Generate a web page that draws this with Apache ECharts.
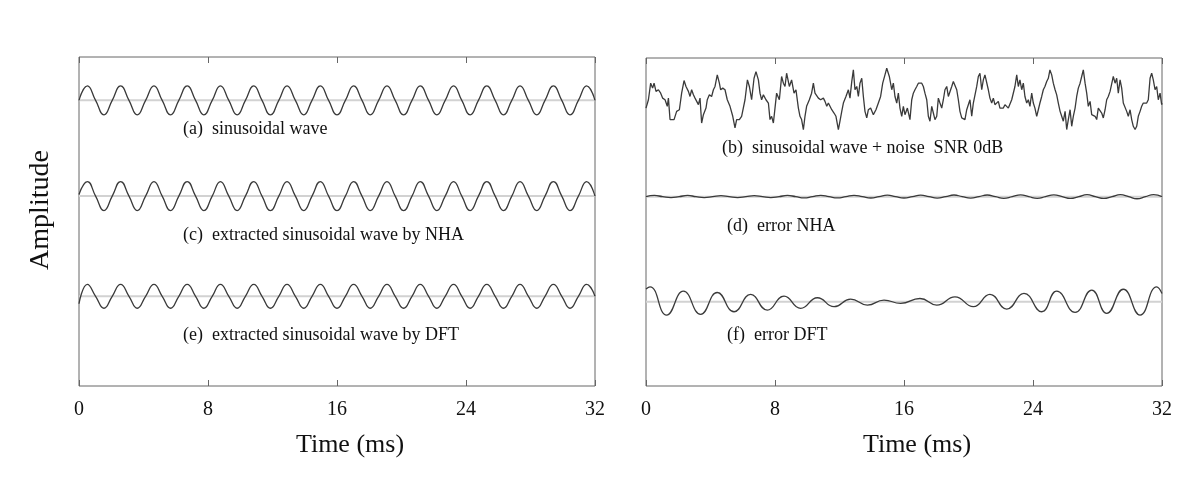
<!DOCTYPE html>
<html>
<head>
<meta charset="utf-8">
<script src="https://cdn.jsdelivr.net/npm/echarts@6/dist/echarts.min.js"></script>
<style>html,body{margin:0;padding:0;background:#fff}#c{width:1200px;height:495px}</style>
</head>
<body>
<div id="c"></div>
<script>
// ---------------- data ----------------
const timeTicks = [0, 8, 16, 24, 32];
// sample instants of the clean sinusoid (zero crossings and extrema, ms)
const sineTime = [0,0.52,1.03,1.55,2.06,2.58,3.10,3.61,4.13,4.65,5.16,5.68,6.19,6.71,7.23,7.74,8.26,8.77,9.29,9.81,10.32,10.84,11.35,11.87,12.39,12.90,13.42,13.94,14.45,14.97,15.48,16.00,16.52,17.03,17.55,18.06,18.58,19.10,19.61,20.13,20.65,21.16,21.68,22.19,22.71,23.23,23.74,24.26,24.77,25.29,25.81,26.32,26.84,27.35,27.87,28.39,28.90,29.42,29.94,30.45,30.97,31.48,32.00];
const waveA = [0,0.97,0,-0.97,0,0.97,0,-0.97,0,0.97,0,-0.97,0,0.97,0,-0.97,0,0.97,0,-0.97,0,0.97,0,-0.97,0,0.97,0,-0.97,0,0.97,0,-0.97,0,0.97,0,-0.97,0,0.97,0,-0.97,0,0.97,0,-0.97,0,0.97,0,-0.97,0,0.97,0,-0.97,0,0.97,0,-0.97,0,0.97,0,-0.97,0,0.97,0];
const waveC = [0.1,0.97,0,-0.97,0,0.97,0,-0.97,0,0.97,0,-0.97,0,0.97,0,-0.97,0,0.97,0,-0.97,0,0.97,0,-0.97,0,0.97,0,-0.97,0,0.97,0,-0.97,0,0.97,0,-0.97,0,0.97,0,-0.97,0,0.97,0,-0.97,0,0.97,0,-0.97,0,0.97,0,-0.97,0,0.97,0,-0.97,0,0.97,0,-0.97,0,0.97,0];
const waveE = [-0.5,0.8,0,-0.8,0,0.8,0,-0.8,0,0.8,0,-0.8,0,0.8,0,-0.8,0,0.8,0,-0.8,0,0.8,0,-0.8,0,0.8,0,-0.8,0,0.8,0,-0.8,0,0.8,0,-0.8,0,0.8,0,-0.8,0,0.8,0,-0.8,0,0.8,0,-0.8,0,0.8,0,-0.8,0,0.8,0,-0.8,0,0.8,0,-0.8,0,0.8,0];
const errNHA = [0,0.08,0,-0.07,0,0.08,0,-0.06,0,0.07,0,-0.06,0,0.07,0,-0.07,0,0.08,0,-0.08,0,0.09,0,-0.08,0,0.09,0,-0.09,0,0.10,0,-0.09,0,0.10,0,-0.10,0,0.11,0,-0.10,0,0.11,0,-0.11,0,0.12,0,-0.11,0,0.12,0,-0.12,0,0.13,0,-0.12,0,0.13,0,-0.14,0,0.14,0];
// noisy signal (b)
const noisyTime = [0.00,0.15,0.29,0.41,0.50,0.62,0.77,0.91,1.03,1.18,1.32,1.39,1.49,1.59,1.74,1.90,2.07,2.21,2.36,2.48,2.63,2.73,2.83,2.94,3.04,3.14,3.25,3.35,3.45,3.56,3.72,3.80,3.93,4.07,4.18,4.28,4.42,4.55,4.63,4.76,4.90,5.04,5.21,5.38,5.52,5.62,5.79,5.93,6.14,6.29,6.41,6.55,6.70,6.82,6.97,7.07,7.17,7.28,7.44,7.59,7.69,7.79,7.90,8.00,8.10,8.27,8.41,8.52,8.62,8.72,8.89,9.03,9.18,9.30,9.45,9.55,9.65,9.76,9.86,9.96,10.13,10.27,10.38,10.48,10.58,10.69,10.83,11.00,11.10,11.21,11.31,11.41,11.52,11.66,11.78,11.93,12.03,12.14,12.24,12.40,12.55,12.65,12.76,12.86,12.96,13.07,13.17,13.27,13.38,13.48,13.58,13.69,13.79,13.93,14.10,14.26,14.41,14.55,14.68,14.82,14.93,15.09,15.24,15.34,15.44,15.55,15.65,15.75,15.86,15.96,16.06,16.21,16.37,
16.48,16.58,16.68,16.79,16.89,16.99,17.10,17.20,17.30,17.41,17.51,17.61,17.72,17.82,17.92,18.03,18.13,18.23,18.34,18.44,18.54,18.65,18.75,18.85,18.96,19.06,19.16,19.27,19.37,19.47,19.58,19.68,19.78,19.89,19.99,20.09,20.20,20.30,20.40,20.51,20.61,20.71,20.82,20.92,21.02,21.13,21.23,21.33,21.44,21.54,21.64,21.75,21.85,21.95,22.06,22.16,22.26,22.37,22.47,22.57,22.68,22.78,22.88,22.99,23.09,23.19,23.30,23.40,23.50,23.61,23.71,23.81,23.92,24.02,24.12,24.23,24.33,24.43,24.54,24.64,24.74,24.85,24.95,25.05,25.16,25.26,25.37,25.47,25.57,25.68,25.78,25.88,25.99,26.09,26.19,26.30,26.40,26.50,26.61,26.71,26.81,26.92,27.02,27.12,27.23,27.33,27.43,27.54,27.64,27.74,27.85,27.95,28.05,28.16,28.26,28.36,28.47,28.57,28.67,28.78,28.88,28.98,29.09,29.19,29.29,29.40,29.50,29.60,29.71,29.81,29.91,30.02,30.12,30.22,30.33,30.43,30.53,30.64,30.74,30.84,30.95,31.05,31.15,31.26,31.36,31.46,31.57,31.67,31.77,31.88,31.98,32.00];
const noisyAmp = [-0.56,0,1.11,0.78,1.11,0.56,0.67,0.44,0.11,0,-0.44,0.11,-1.33,-1.22,-1.33,-0.78,-0.67,0.44,1.29,0.89,0.56,0.22,0.67,0.33,0.11,0,-0.33,0.11,-1.56,-1.00,-0.56,0,0.33,0.22,0.67,0.89,1.67,1.11,0.67,0.78,0.67,0,-0.44,-1.11,-1.89,-1.33,-1.33,-1.11,0,1.33,0.89,0,1.44,1.89,1.33,0.44,0,0.33,0,-0.22,-1.33,-1.11,-1.56,-0.56,0.44,0,1.56,1.11,0.89,1.78,0.89,1.33,0.44,0.67,-0.56,-1.11,-1.33,-2.00,-1.11,-0.44,0,0.44,1.11,0.44,0.44,0.11,0,0.11,-0.11,-0.44,-0.22,-0.33,-0.67,-0.89,-1.11,-2.00,-1.44,-0.78,-0.22,0.22,0.67,0.11,1.22,2.00,0.67,0.89,0.22,1.11,1.44,0.22,-0.78,-1.22,-0.67,-0.56,-1.00,-0.67,-0.22,0.22,1.11,1.67,2.11,1.56,0.67,1.11,0.22,-0.22,0.44,-0.56,-1.11,-0.44,-1.00,-0.56,-1.33,
0,0.44,0.67,0.89,1.11,1.00,1.11,0.89,0.44,0,-1.11,-1.44,-0.44,-0.89,-1.33,-1.11,0.11,-0.22,-0.56,0,0.67,0.89,0.22,0.22,0.89,1.22,1.33,0.67,0,-0.78,-1.22,-1.11,-1.33,-0.67,-0.56,0,-1.11,-0.22,-0.11,0.89,1.56,1.78,0.67,1.33,1.67,1.56,0.67,0.11,-0.22,0.11,-0.33,-0.44,-0.11,-0.56,-0.44,-0.56,-0.33,-0.44,-0.56,-0.67,0,-0.11,0.89,1.67,0.89,1.33,0.67,1.11,0.22,-0.22,0,-0.44,0.44,-0.22,-0.56,-1.11,-0.67,-0.22,0.22,0.67,0.89,1.22,1.44,2.00,1.67,1.11,0.67,0.33,-0.22,-0.78,-1.11,-1.44,-0.78,-2.00,-1.33,-0.67,-1.78,-1.11,-0.56,0.22,0.78,1.11,1.56,2.00,1.11,0.44,-0.44,-0.11,-1.00,-0.89,-1.11,-1.33,-0.56,-0.56,-0.89,-1.22,-0.67,0,0.22,0.56,0.44,1.56,1.11,1.44,0.44,1.33,0.78,-0.22,-0.11,-0.78,-1.11,-0.67,-1.33,-1.78,-2.00,-1.78,-1.11,-0.78,-0.44,-0.22,-0.11,-0.22,0,1.44,1.78,1.33,0.67,0.89,0,0.44,-0.33,-0.22];
// DFT error (f): extrema
const dftTime = [0,0.25,1.28,2.32,3.39,4.42,5.46,6.49,7.52,8.56,9.59,10.63,11.66,12.69,13.73,14.76,15.79,16.99,18.03,19.16,20.30,21.33,22.37,23.44,24.54,25.47,26.61,27.64,28.57,29.60,30.64,31.67,32.00];
const dftAmp = [0.85,1.00,-0.89,0.71,-0.84,0.62,-0.67,0.49,-0.56,0.38,-0.44,0.27,-0.33,0.18,-0.22,0.11,-0.11,0.22,-0.22,0.33,-0.33,0.49,-0.49,0.56,-0.67,0.71,-0.71,0.78,-0.78,0.84,-0.89,1.00,0.56];
// vertical offsets of the stacked traces (amplitude units)
const leftOffsets = [-2.9, -9.3, -16.0];   // (a) (c) (e)
const rightOffsets = [-2.8, -9.3, -16.35]; // (b) (d) (f)
const yRange = [-22, 0];
const leftLabels = ['(a)  sinusoidal wave', '(c)  extracted sinusoidal wave by NHA', '(e)  extracted sinusoidal wave by DFT'];
const rightLabels = ['(b)  sinusoidal wave + noise  SNR 0dB', '(d)  error NHA', '(f)  error DFT'];

// ---------------- chart ----------------
const FONT = '"Liberation Serif","Times New Roman",serif';
const WAVE = '#3a3a3a', BORDER = '#666', BASE = '#d2d2d2';
function pts(t, v, off) { return t.map((x, i) => [x, v[i] + off]); }
function baseline(off, xi, yi) {
  return { type: 'line', xAxisIndex: xi, yAxisIndex: yi, data: [[timeTicks[0], off], [timeTicks[timeTicks.length - 1], off]],
    symbol: 'none', lineStyle: { color: BASE, width: 2 }, silent: true, z: 1, animation: false };
}
function wave(t, v, off, xi, yi, smooth) {
  return { type: 'line', xAxisIndex: xi, yAxisIndex: yi, data: pts(t, v, off), symbol: 'none', smooth: smooth,
    lineStyle: { color: WAVE, width: 1.3 }, silent: true, z: 3, animation: false };
}
function xAx(gi, pos) {
  const bottom = pos === 'bottom';
  return { type: 'value', gridIndex: gi, position: pos, min: timeTicks[0], max: timeTicks[timeTicks.length - 1], interval: 8,
    axisLine: { show: false, onZero: false }, splitLine: { show: false },
    axisTick: { show: true, inside: true, length: 6, lineStyle: { color: BORDER, width: 1 } },
    axisLabel: { show: bottom, fontFamily: FONT, fontSize: 20, color: '#111', margin: 14 },
    name: bottom ? 'Time (ms)' : '', nameLocation: 'middle', nameGap: 46,
    nameTextStyle: { fontFamily: FONT, fontSize: 26, color: '#111', padding: [0, 0, 0, 26] } };
}
function yAx(gi) {
  return { type: 'value', gridIndex: gi, min: yRange[0], max: yRange[1], axisLine: { show: false, onZero: false }, axisTick: { show: false },
    axisLabel: { show: false }, splitLine: { show: false } };
}
const texts = [];
const leftTextPos = [[183, 131], [183, 237], [183, 337]];
const rightTextPos = [[722, 150], [727, 228], [727, 337]];
leftLabels.forEach((s, i) => texts.push({ type: 'text', left: leftTextPos[i][0], top: leftTextPos[i][1] - 11, style: { text: s, font: '18px ' + FONT, fill: '#111' } }));
rightLabels.forEach((s, i) => texts.push({ type: 'text', left: rightTextPos[i][0], top: rightTextPos[i][1] - 11, style: { text: s, font: '18px ' + FONT, fill: '#111' } }));
texts.push({ type: 'text', x: 41, y: 210, rotation: Math.PI / 2, style: { text: 'Amplitude', font: '28px ' + FONT, fill: '#111', align: 'center', verticalAlign: 'middle' } });

const option = {
  backgroundColor: '#fff',
  animation: false,
  grid: [
    { left: 79, top: 57, width: 516, height: 329, show: true, borderColor: BORDER, borderWidth: 1, backgroundColor: 'transparent' },
    { left: 646, top: 58, width: 516, height: 328, show: true, borderColor: BORDER, borderWidth: 1, backgroundColor: 'transparent' }
  ],
  xAxis: [xAx(0, 'bottom'), xAx(0, 'top'), xAx(1, 'bottom'), xAx(1, 'top')],
  yAxis: [yAx(0), yAx(1)],
  series: [
    baseline(leftOffsets[0], 0, 0), baseline(leftOffsets[1], 0, 0), baseline(leftOffsets[2], 0, 0),
    baseline(rightOffsets[1], 2, 1), baseline(rightOffsets[2], 2, 1),
    wave(sineTime, waveA, leftOffsets[0], 0, 0, true),
    wave(sineTime, waveC, leftOffsets[1], 0, 0, true),
    wave(sineTime, waveE, leftOffsets[2], 0, 0, true),
    wave(noisyTime, noisyAmp, rightOffsets[0], 2, 1, false),
    wave(sineTime, errNHA, rightOffsets[1], 2, 1, true),
    wave(dftTime, dftAmp, rightOffsets[2], 2, 1, true)
  ],
  graphic: texts
};
const chart = echarts.init(document.getElementById('c'), null, { renderer: 'canvas' });
chart.setOption(option);
</script>
</body>
</html>
